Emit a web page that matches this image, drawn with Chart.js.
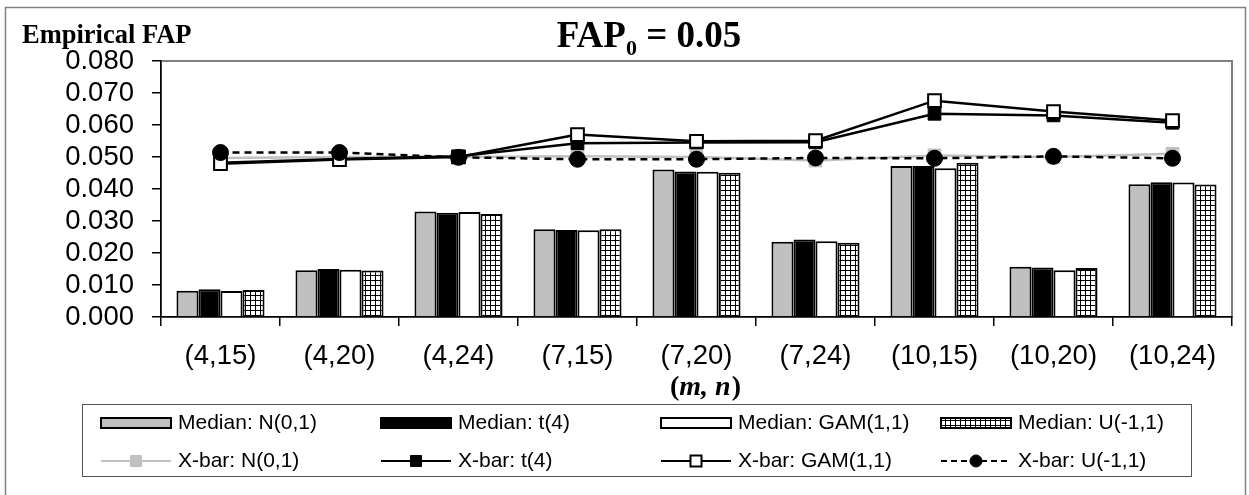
<!DOCTYPE html>
<html>
<head>
<meta charset="utf-8">
<script src="https://cdn.jsdelivr.net/npm/chart.js@4.4.1/dist/chart.umd.min.js"></script>
<style>
	html, body { margin: 0; padding: 0; background: #fff; }
	#wrap { width: 1249px; height: 495px; position: relative; }
</style>
</head>
<body>
<div id="wrap"><canvas id="myChart"></canvas></div>
<script>
const categories = ["(4,15)", "(4,20)", "(4,24)", "(7,15)", "(7,20)", "(7,24)", "(10,15)", "(10,20)", "(10,24)"];

const seriesNames = [
	"Median: N(0,1)", "Median: t(4)", "Median: GAM(1,1)", "Median: U(-1,1)",
	"X-bar: N(0,1)", "X-bar: t(4)", "X-bar: GAM(1,1)", "X-bar: U(-1,1)",
];

// median chart FAP (bars)
const medN = [0.0082, 0.0146, 0.0330, 0.0274, 0.0461, 0.0235, 0.0472, 0.0157, 0.0415];
const medT = [0.0087, 0.0150, 0.0326, 0.0272, 0.0455, 0.0242, 0.0472, 0.0155, 0.0421];
const medGam = [0.0081, 0.0148, 0.0328, 0.0271, 0.0454, 0.0237, 0.0465, 0.0146, 0.0420];
const medU = [0.0084, 0.0145, 0.0322, 0.0274, 0.0451, 0.0232, 0.0482, 0.0153, 0.0414];

// X-bar chart FAP (lines)
const xbarN = [0.0497, 0.0500, 0.0500, 0.0502, 0.0500, 0.0489, 0.0505, 0.0500, 0.0510];
const xbarT = [0.0482, 0.0494, 0.0502, 0.0543, 0.0545, 0.0546, 0.0635, 0.0630, 0.0607];
const xbarGam = [0.0479, 0.0492, 0.0500, 0.0570, 0.0549, 0.0551, 0.0676, 0.0642, 0.0614];
const xbarU = [0.0514, 0.0514, 0.0499, 0.0493, 0.0493, 0.0497, 0.0496, 0.0502, 0.0496];

const yMin = 0;
const yMax = 0.08;
const yStep = 0.01;

Chart.defaults.font.family = '"Liberation Sans", Arial, sans-serif';
Chart.defaults.color = "#000";

function makeHatch() {
	const c = document.createElement("canvas");
	c.width = 5;
	c.height = 5;
	const g = c.getContext("2d");
	g.fillStyle = "#000";
	g.fillRect(0, 0, 5, 5);
	g.fillStyle = "#fff";
	g.fillRect(1, 1, 4, 4);
	return g.createPattern(c, "repeat");
}
const hatch = makeHatch();

const SERIF = '"Liberation Serif", "Times New Roman", serif';

function drawMarker(ctx, ds, x, y, r) {
	ctx.save();
	ctx.setLineDash([]);
	ctx.fillStyle = ds.pointBackgroundColor;
	ctx.strokeStyle = ds.pointBorderColor;
	ctx.lineWidth = ds.pointBorderWidth;
	ctx.beginPath();
	if (ds.pointStyle === "circle") {
		ctx.arc(x, y, r, 0, Math.PI * 2);
	} else {
		ctx.rect(x - r, y - r, r * 2, r * 2);
	}
	ctx.fill();
	ctx.stroke();
	ctx.restore();
}

const decor = {
	id: "decor",
	beforeDraw(chart) {
		const { ctx, chartArea: a } = chart;
		ctx.save();
		ctx.fillStyle = "#fff";
		ctx.fillRect(0, 0, chart.width, chart.height);
		ctx.strokeStyle = "#808080";
		ctx.lineWidth = 1.5;
		ctx.strokeRect(5.5, 7.5, 1240, 560);
		ctx.lineWidth = 2;
		ctx.strokeRect(a.left, a.top, a.right - a.left, a.bottom - a.top);
		ctx.restore();
	},
	afterDraw(chart) {
		const ctx = chart.ctx;
		ctx.save();
		ctx.fillStyle = "#000";
		ctx.textBaseline = "alphabetic";

		// y axis title
		ctx.font = "bold 26.5px " + SERIF;
		ctx.textAlign = "left";
		ctx.fillText("Empirical FAP", 22, 43);

		// chart title: FAP0 = 0.05
		const big = "bold 37px " + SERIF;
		const small = "bold 22px " + SERIF;
		ctx.font = big;
		const w1 = ctx.measureText("FAP").width;
		const w3 = ctx.measureText(" = 0.05").width;
		ctx.font = small;
		const w2 = ctx.measureText("0").width;
		let tx = 649 - (w1 + w2 + w3) / 2;
		ctx.font = big;
		ctx.fillText("FAP", tx, 47);
		ctx.font = small;
		ctx.fillText("0", tx + w1, 55);
		ctx.font = big;
		ctx.fillText(" = 0.05", tx + w1 + w2, 47);

		// x axis title (m, n)
		const up = "bold 28px " + SERIF;
		const it = "italic bold 28px " + SERIF;
		ctx.font = up;
		const p1 = ctx.measureText("(").width;
		const p3 = ctx.measureText(")").width;
		ctx.font = it;
		const p2 = ctx.measureText("m, n").width;
		let ax = 705 - (p1 + p2 + p3) / 2;
		ctx.font = up;
		ctx.fillText("(", ax, 395);
		ctx.font = it;
		ctx.fillText("m, n", ax + p1, 395);
		ctx.font = up;
		ctx.fillText(")", ax + p1 + p2 + 1, 395);

		// legend
		ctx.strokeStyle = "#555";
		ctx.lineWidth = 1;
		ctx.strokeRect(82.5, 404.5, 1109, 72);
		const cols = [101, 381, 661, 941];
		const rows = [423, 461];
		const sw = 70;
		ctx.font = '21px "Liberation Sans", Arial, sans-serif';
		ctx.textBaseline = "middle";
		chart.data.datasets.forEach((ds, i) => {
			const x = cols[i % 4];
			const y = rows[Math.floor(i / 4)];
			if (ds.type === "bar") {
				ctx.fillStyle = ds.backgroundColor;
				ctx.fillRect(x, y - 5, sw, 10);
				ctx.strokeStyle = "#000";
				ctx.lineWidth = 2;
				ctx.strokeRect(x, y - 5, sw, 10);
			} else {
				ctx.strokeStyle = ds.borderColor;
				ctx.lineWidth = 2;
				ctx.setLineDash(ds.borderDash ? [6, 4] : []);
				ctx.beginPath();
				ctx.moveTo(x, y);
				ctx.lineTo(x + sw, y);
				ctx.stroke();
				ctx.setLineDash([]);
				drawMarker(ctx, ds, x + sw / 2, y, ds.pointStyle === "circle" ? 6 : 5.5);
			}
			ctx.fillStyle = "#000";
			ctx.fillText(ds.label, x + sw + 7, y);
		});
		ctx.restore();
	},
};

const ctx = document.getElementById("myChart");

const myChart = new Chart(ctx, {
	type: "bar",
	data: {
		labels: categories,
		datasets: [
			{ type: "bar", label: seriesNames[0], data: medN, backgroundColor: "#c0c0c0", borderColor: "#000", borderWidth: 2, order: 5 },
			{ type: "bar", label: seriesNames[1], data: medT, backgroundColor: "#000", borderColor: "#000", borderWidth: 2, order: 5 },
			{ type: "bar", label: seriesNames[2], data: medGam, backgroundColor: "#fff", borderColor: "#000", borderWidth: 2, order: 5 },
			{ type: "bar", label: seriesNames[3], data: medU, backgroundColor: hatch, borderColor: "#000", borderWidth: 2, order: 5 },
			{
				type: "line", label: seriesNames[4], data: xbarN,
				borderColor: "#c0c0c0", borderWidth: 2.5,
				pointStyle: "rect", pointRadius: 9, pointBorderWidth: 1,
				pointBackgroundColor: "#c0c0c0", pointBorderColor: "#c0c0c0",
				order: 4,
			},
			{
				type: "line", label: seriesNames[5], data: xbarT,
				borderColor: "#000", borderWidth: 2.5,
				pointStyle: "rect", pointRadius: 9, pointBorderWidth: 1,
				pointBackgroundColor: "#000", pointBorderColor: "#000",
				order: 3,
			},
			{
				type: "line", label: seriesNames[6], data: xbarGam,
				borderColor: "#000", borderWidth: 2.5,
				pointStyle: "rect", pointRadius: 9, pointBorderWidth: 2,
				pointBackgroundColor: "#fff", pointBorderColor: "#000",
				order: 2,
			},
			{
				type: "line", label: seriesNames[7], data: xbarU,
				borderColor: "#000", borderWidth: 2.5, borderDash: [7, 5],
				pointStyle: "circle", pointRadius: 8, pointBorderWidth: 1,
				pointBackgroundColor: "#000", pointBorderColor: "#000",
				order: 1,
			},
		],
	},
	options: {
		responsive: true,
		maintainAspectRatio: false,
		animation: false,
		layout: { padding: { left: 0, top: 61, right: 17, bottom: 0 } },
		datasets: {
			bar: { categoryPercentage: 0.74, barPercentage: 1 },
			line: { tension: 0, fill: false },
		},
		scales: {
			x: {
				afterFit: (s) => { s.height = 178; },
				border: { display: true, color: "#000", width: 1.5 },
				grid: { drawOnChartArea: false, tickLength: 9, color: "#000", lineWidth: 1.5, offset: true },
				ticks: { padding: 14, font: { size: 27.5 }, autoSkip: false, maxRotation: 0 },
			},
			y: {
				min: yMin,
				max: yMax,
				afterFit: (s) => { s.width = 161; },
				border: { display: true, color: "#000", width: 1.5 },
				grid: { drawOnChartArea: false, tickLength: 9, color: "#000", lineWidth: 1.5 },
				ticks: {
					stepSize: yStep,
					autoSkip: false,
					padding: 18,
					font: { size: 27.5 },
					callback: (v) => v.toFixed(3),
				},
			},
		},
		plugins: {
			legend: { display: false },
			tooltip: { enabled: false },
		},
	},
	plugins: [decor],
});
</script>
</body>
</html>
